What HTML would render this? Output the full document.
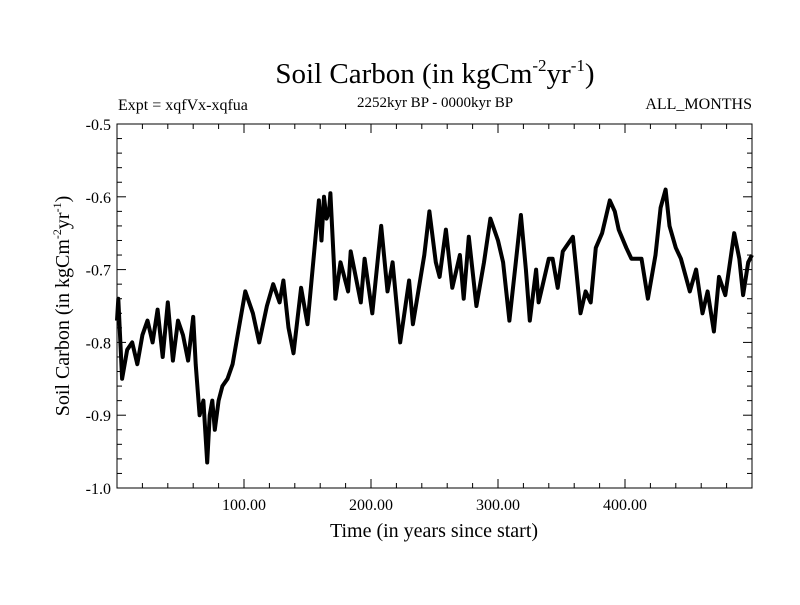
<!DOCTYPE html>
<html><head><meta charset="utf-8"><style>
body{margin:0;background:#fff}
svg text{font-family:"Liberation Serif",serif;fill:#000}
</style></head><body>
<svg width="800" height="600" xmlns="http://www.w3.org/2000/svg">
<rect width="800" height="600" fill="#fff"/>
<text x="435" y="83" font-size="29" text-anchor="middle">Soil Carbon (in kgCm<tspan font-size="17" dy="-12">-2</tspan><tspan dy="12">yr</tspan><tspan font-size="17" dy="-12">-1</tspan><tspan dy="12">)</tspan></text>
<text x="118" y="110" font-size="16">Expt = xqfVx-xqfua</text>
<text x="435" y="107" font-size="15" text-anchor="middle">2252kyr BP - 0000kyr BP</text>
<text x="752" y="109" font-size="16" text-anchor="end">ALL_MONTHS</text>
<text x="434" y="537" font-size="20" text-anchor="middle">Time (in years since start)</text>
<text transform="translate(69,306) rotate(-90)" font-size="20" text-anchor="middle">Soil Carbon (in kgCm<tspan font-size="12" dy="-8">-2</tspan><tspan dy="8">yr</tspan><tspan font-size="12" dy="-8">-1</tspan><tspan dy="8">)</tspan></text>
<g id="axes"></g>
<path id="series" fill="none" stroke="#000" stroke-width="4" stroke-linejoin="round"/>
<rect x="117" y="124" width="635" height="364" fill="none" stroke="#000" stroke-width="1"/>
</svg>
<script>
const times=[0,1,4,8,12,16,20,24,28,32,36,40,44,48,52,56,60,62,65,68,71,73,75,77,80,83,87,91,96,101,107,112,118,123,128,131,135,139,145,150,155,159,161,163,165,167,168,171,172,176,182,184,192,195,201,208,213,217,223,230,233,242,246,251,254,259,264,270,273,277,283,289,294,300,304,309,314,318,322,325,330,332,334,340,343,347,351,359,361,365,369,373,377,382,388,392,395,401,405,413,418,424,428,432,435,440,444,451,456,461,465,470,474,479,486,490,493,497,500];
const values=[-0.77,-0.74,-0.85,-0.81,-0.80,-0.83,-0.79,-0.77,-0.80,-0.755,-0.82,-0.745,-0.825,-0.77,-0.79,-0.825,-0.765,-0.83,-0.90,-0.88,-0.965,-0.90,-0.88,-0.92,-0.88,-0.86,-0.85,-0.83,-0.78,-0.73,-0.76,-0.80,-0.75,-0.72,-0.745,-0.715,-0.78,-0.815,-0.725,-0.775,-0.68,-0.605,-0.66,-0.60,-0.63,-0.62,-0.595,-0.70,-0.74,-0.69,-0.73,-0.675,-0.745,-0.685,-0.76,-0.64,-0.73,-0.69,-0.80,-0.715,-0.775,-0.68,-0.62,-0.69,-0.71,-0.645,-0.725,-0.68,-0.74,-0.655,-0.75,-0.69,-0.63,-0.66,-0.69,-0.77,-0.69,-0.625,-0.70,-0.77,-0.70,-0.745,-0.73,-0.685,-0.685,-0.725,-0.675,-0.655,-0.69,-0.76,-0.73,-0.745,-0.67,-0.65,-0.605,-0.62,-0.645,-0.67,-0.685,-0.685,-0.74,-0.68,-0.615,-0.59,-0.64,-0.67,-0.685,-0.73,-0.70,-0.76,-0.73,-0.785,-0.71,-0.735,-0.65,-0.685,-0.735,-0.69,-0.68];
const yTicks=[-0.5,-0.6,-0.7,-0.8,-0.9,-1.0];
const yTickLabels=["-0.5","-0.6","-0.7","-0.8","-0.9","-1.0"];
const xTicks=[100,200,300,400];
const xTickLabels=["100.00","200.00","300.00","400.00"];
const X0=117,X1=752,Y0=124,Y1=488;
const xs=t=>X0+t/500*(X1-X0);
const ys=v=>Y0+(-0.5-v)/0.5*(Y1-Y0);
const NS="http://www.w3.org/2000/svg";
const ax=document.getElementById('axes');
function ln(x1,y1,x2,y2,name){const l=document.createElementNS(NS,'line');
l.setAttribute('x1',x1);l.setAttribute('y1',y1);l.setAttribute('x2',x2);l.setAttribute('y2',y2);
l.setAttribute('stroke','#000');l.setAttribute('stroke-width','1');


ax.appendChild(l);}
function tx(x,y,s,anchor,name){const t=document.createElementNS(NS,'text');
t.setAttribute('x',x);t.setAttribute('y',y);t.setAttribute('font-size','16');t.setAttribute('text-anchor',anchor);t.textContent=s;


ax.appendChild(t);}
for(let t=20;t<500;t+=20){const x=xs(t),L=(t%100===0)?9:5;ln(x,Y1,x,Y1-L,'x-tick');ln(x,Y0,x,Y0+L,'x-tick-top');}
for(let i=0;i<=25;i++){const v=-0.5-i*0.02,y=ys(v),L=(i%5===0)?9:5;ln(X0,y,X0+L,y,'y-tick');ln(X1,y,X1-L,y,'y-tick-right');}
yTicks.forEach((v,i)=>tx(X0-6,ys(v)+6,yTickLabels[i],'end','y-tick-label'));
xTicks.forEach((t,i)=>tx(xs(t),Y1+22,xTickLabels[i],'middle','x-tick-label'));
let d='';times.forEach((t,i)=>{d+=(i?'L':'M')+xs(t).toFixed(1)+' '+ys(values[i]).toFixed(1);});
document.getElementById('series').setAttribute('d',d);
</script>
</body></html>
